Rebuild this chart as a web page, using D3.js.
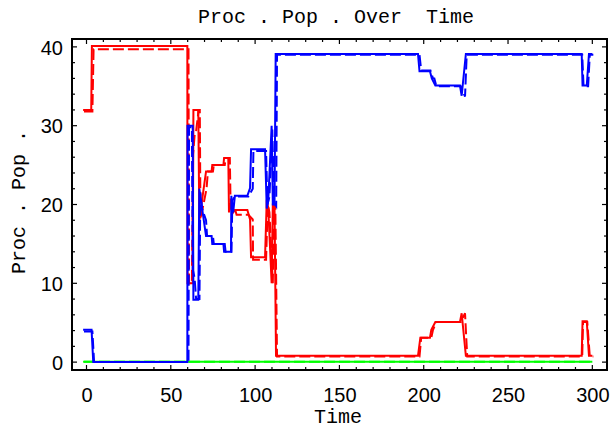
<!DOCTYPE html>
<html><head><meta charset="utf-8">
<script src="https://cdn.jsdelivr.net/npm/d3@7"></script>
<style>
html,body{margin:0;padding:0;background:#fff;}
svg{display:block;}
text{white-space:pre;}
</style></head>
<body>
<svg id="chart" width="610" height="429"></svg>
<script>
// ---- data (time, population) ----
const redSolid = [[-2,32],[2.8,32],[3.2,40.1],[59.8,40.1],[59.9,10],[63,10],[63.4,32],[66.3,32],[66.9,18],[70.9,24.2],[74.2,24.2],[74.6,25],[81.2,25],[81.6,25.9],[84.1,25.9],[84.5,19],[86,20.5],[87,19],[88,19.3],[95.4,19.3],[97,18.1],[97.6,13.3],[105.9,13.3],[106.9,20.6],[107.8,19.5],[109.8,10],[110.5,20],[111.5,20],[112.4,0.8],[196.6,0.8],[198,3.1],[203.7,3.1],[204.5,4.1],[206.9,5.1],[221.5,5.1],[222.5,6.2],[225,0.8],[293.7,0.8],[294.2,5.2],[296.7,5.2],[298,0.8],[300,0.8]];
const redDashed = [[-1.5,31.8],[3.5,31.8],[4.2,39.7],[60.5,39.7],[60.8,10],[62.5,10],[63.2,26.4],[64.1,28.7],[65,29.3],[66.5,32],[67.2,32],[67.6,18.1],[71.2,22],[72,24.2],[75,24.2],[75.5,25],[82,25],[82.5,25.9],[85,25.9],[85.5,19.5],[88,19.5],[89,18.7],[96,18.7],[98.6,18.1],[98.8,13],[106.5,13],[107.5,20],[108.5,19],[110.5,10],[111.2,20],[112,19.7],[113,0.7],[197.5,0.7],[198.5,3.1],[204.5,3.1],[205.5,4.1],[207.5,5.1],[222,5.1],[224.5,6.2],[225.8,0.7],[294,0.7],[294.5,5.1],[297,5.1],[298.5,0.7],[300.6,0.7]];
const blueSolid = [[-2,4.1],[3,4.1],[4,0],[59.8,0],[59.9,30],[63,30],[63.4,7.9],[66.3,7.9],[66.9,22],[70.9,16],[74.2,16],[74.6,15],[81.2,15],[81.6,14],[85.7,14],[85.9,21.1],[87,19],[88,21.1],[95.4,21.1],[97,22.1],[97.6,27],[105.9,27],[106.9,19.5],[107.8,20.5],[109.8,30],[110.5,20],[111.5,20],[112.2,39.1],[196.6,39.1],[197.5,36.9],[203.7,36.9],[204.8,36],[206.9,35.1],[221.5,35.1],[222.5,33.8],[225,39.1],[293.7,39.1],[294.2,35.1],[296.7,35.1],[298,39.1],[300,39.1]];
const blueDashed = [[-1.5,3.9],[3.5,3.9],[4.5,0],[60.5,0],[60.8,29.8],[62.5,29.8],[63,11.8],[64.1,10.7],[65,8],[67,8],[67.5,21.5],[68.5,19.5],[70.9,18],[71.5,16],[75,16],[75.5,15],[82,15],[82.5,14],[86,14],[86.5,20.5],[88,21],[96,21],[98.6,22],[99,26.8],[106.5,26.8],[107.3,20],[108.5,21],[110.2,29.5],[111.2,20.2],[112.5,19.8],[113,39],[197.5,39],[198.5,37],[204,37],[205.5,36],[206.3,36],[207.5,35],[222,35],[224.5,33.7],[225.5,39],[294,39],[294.8,35],[297.5,35],[298.5,39],[300.6,39]];
const greenSolid = [[-2,0.05],[300,0.05]];
const greenDashed = [[-1.5,0.05],[300.6,0.05]];

const xMajor = [0,50,100,150,200,250,300];
const xMinor = [10,20,30,40,60,70,80,90,110,120,130,140,160,170,180,190,210,220,230,240,260,270,280,290];
const yMajor = [0,10,20,30,40];
const yMinor = [2,4,6,8,12,14,16,18,22,24,26,28,32,34,36,38];

const titleText = "Proc . Pop . Over  Time";
const xLabel = "Time";
const yLabel = "Proc . Pop .";

// ---- layout ----
const svg = d3.select("#chart");
const L = 72, R = 607, T = 39, B = 370;
const x = d3.scaleLinear().domain([-8.6, 308.7]).range([L, R]);
const y = d3.scaleLinear().domain([-1, 41]).range([B, T]);

const line = d3.line().x(d => x(d[0])).y(d => y(d[1]));

const plot = svg.append("g");
plot.append("defs").append("clipPath").attr("id","clip")
  .append("rect").attr("x",L).attr("y",T).attr("width",R-L).attr("height",B-T);
const lines = plot.append("g").attr("clip-path","url(#clip)");

function draw(data, color, dashed){
  lines.append("path").datum(data)
    .attr("d", line)
    .attr("fill","none")
    .attr("stroke", color)
    .attr("stroke-width", 2)
    .attr("stroke-linejoin","miter")
    .attr("stroke-dasharray", dashed ? "11,4" : null);
}
draw(greenSolid, "#00ff00", false);
draw(greenDashed, "#00ff00", true);
draw(redDashed, "#ff0000", true);
draw(redSolid, "#ff0000", false);
draw(blueDashed, "#0000ff", true);
draw(blueSolid, "#0000ff", false);

// ---- frame and ticks ----
const axB = d3.axisBottom(x).tickValues(xMajor).tickSize(0).tickPadding(0).tickFormat(d3.format("d"));
const gB = svg.append("g").attr("transform",`translate(0,${B})`).call(axB);
gB.select(".domain").remove();
gB.selectAll("text").attr("y", 32).attr("dy", null)
  .attr("font-family","'Liberation Sans', Arial, sans-serif").attr("font-size", 20).attr("fill","#000");

const axL = d3.axisLeft(y).tickValues(yMajor).tickSize(0).tickPadding(0).tickFormat(d3.format("d"));
const gL = svg.append("g").attr("transform",`translate(${L},0)`).call(axL);
gL.select(".domain").remove();
gL.selectAll("text").attr("x", -9).attr("dy","0.36em")
  .attr("font-family","'Liberation Sans', Arial, sans-serif").attr("font-size", 20).attr("fill","#000");

const tk = svg.append("g").attr("stroke","#000").attr("stroke-width",1.2);
function xt(vals, len){
  vals.forEach(v => {
    tk.append("line").attr("x1",x(v)).attr("x2",x(v)).attr("y1",B).attr("y2",B-len);
    tk.append("line").attr("x1",x(v)).attr("x2",x(v)).attr("y1",T).attr("y2",T+len);
  });
}
function yt(vals, len){
  vals.forEach(v => {
    tk.append("line").attr("y1",y(v)).attr("y2",y(v)).attr("x1",L).attr("x2",L+len);
    tk.append("line").attr("y1",y(v)).attr("y2",y(v)).attr("x1",R).attr("x2",R-len);
  });
}
xt(xMajor, 5); xt(xMinor, 3);
yt(yMajor, 5); yt(yMinor, 3);

svg.append("rect").attr("x",L).attr("y",T).attr("width",R-L).attr("height",B-T)
  .attr("fill","none").attr("stroke","#000").attr("stroke-width",2);

// ---- titles ----
const mono = "'Liberation Mono', 'Courier New', monospace";
svg.append("text").attr("x",336).attr("y",23).attr("text-anchor","middle")
  .attr("font-family",mono).attr("font-size",20).attr("fill","#000").text(titleText);
svg.append("text").attr("x",338).attr("y",423).attr("text-anchor","middle")
  .attr("font-family",mono).attr("font-size",20).attr("fill","#000").text(xLabel);
svg.append("text").attr("transform","translate(25,202) rotate(-90)").attr("text-anchor","middle")
  .attr("font-family",mono).attr("font-size",20).attr("fill","#000").text(yLabel);
</script>
</body></html>
